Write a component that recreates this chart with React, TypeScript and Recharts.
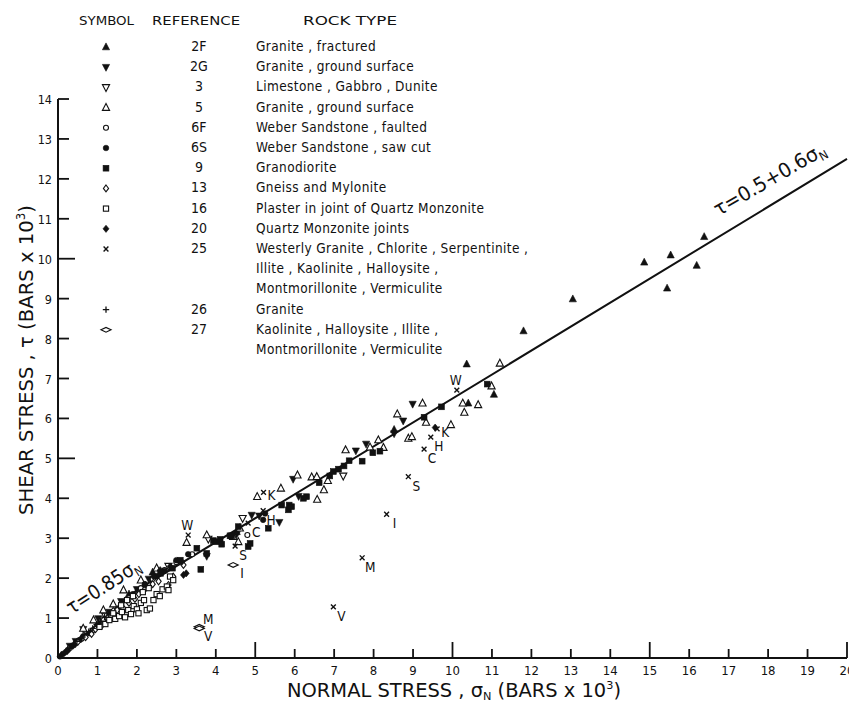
import React from "react";
import { ScatterChart, Scatter, XAxis, YAxis } from "recharts";

type Pt = [number, number];

const FONT = "'DejaVu Sans Condensed', 'DejaVu Sans', sans-serif";
const INK = "#111";

const X_TICKS = [0, 1, 2, 3, 4, 5, 6, 7, 8, 9, 10, 11, 12, 13, 14, 15, 16, 17, 18, 19, 20];
const Y_TICKS = [0, 1, 2, 3, 4, 5, 6, 7, 8, 9, 10, 11, 12, 13, 14];

// fitted lines: tau = 0.85 sigma up to 2 kbar, then tau = 0.5 + 0.6 sigma
const FIT_SIGMA = [0, 2, 20];
const FIT_TAU = [0, 1.7, 12.5];

const REF_2F: Pt[] = [
  [1.8, 1.6], [2.4, 2.15], [4.53, 3.16], [8.52, 5.72], [10.36, 7.36], [10.4, 6.38],
  [11.05, 6.6], [11.8, 8.19], [13.05, 8.99], [14.86, 9.91], [15.44, 9.26],
  [15.53, 10.09], [16.19, 9.83], [16.38, 10.55],
];
const REF_2G: Pt[] = [
  [0.3, 0.3], [0.45, 0.42], [0.64, 0.72], [1.02, 0.99], [1.3, 1.15], [1.6, 1.42],
  [2.0, 1.72], [2.3, 1.98], [3.77, 2.55], [4.53, 3.1], [4.91, 3.58], [5.1, 3.56],
  [5.61, 3.4], [5.96, 4.48], [6.1, 4.05], [7.55, 5.19], [7.81, 5.36], [8.52, 5.62],
  [8.75, 5.94], [8.99, 6.36],
];
const REF_3: Pt[] = [[1.2, 1.05], [2.8, 2.3], [3.81, 2.98], [4.68, 3.5], [7.23, 4.56]];
const REF_5: Pt[] = [
  [0.64, 0.74], [0.9, 0.95], [1.15, 1.2], [1.4, 1.35], [1.66, 1.7], [2.1, 1.95],
  [2.5, 2.25], [3.26, 2.89], [3.77, 3.08], [4.44, 3.04], [4.57, 2.91], [4.61, 3.25],
  [5.05, 4.04], [5.65, 4.25], [6.07, 4.58], [6.43, 4.53], [6.56, 4.54], [6.57, 3.97],
  [6.74, 4.21], [6.84, 4.44], [7.29, 5.21], [7.91, 5.28], [8.12, 5.46], [8.25, 5.27],
  [8.6, 6.11], [8.88, 5.5], [8.97, 5.54], [9.24, 6.38], [9.33, 5.9], [9.96, 5.84],
  [10.26, 6.38], [10.3, 6.15], [10.65, 6.34], [10.99, 6.81], [11.2, 7.38],
];
const REF_6F: Pt[] = [
  [0.3, 0.25], [0.6, 0.48], [0.9, 0.7], [1.2, 0.98], [1.5, 1.22], [1.8, 1.5],
  [2.1, 1.75], [2.4, 1.98], [2.7, 2.2], [3.0, 2.4], [3.4, 2.6], [4.8, 3.08],
];
const REF_6S: Pt[] = [
  [0.05, 0.04], [0.12, 0.1], [0.2, 0.15], [0.25, 0.2], [0.35, 0.3], [0.4, 0.32],
  [0.45, 0.38], [0.55, 0.45], [0.65, 0.55], [0.8, 0.62], [1.0, 0.82], [1.3, 1.08],
  [1.6, 1.35], [1.9, 1.6], [2.2, 1.85], [2.5, 2.05], [2.7, 2.18], [3.0, 2.45],
  [3.3, 2.6], [5.2, 3.46], [5.25, 3.62],
];
const REF_9: Pt[] = [
  [2.6, 2.12], [2.9, 2.25], [3.1, 2.45], [3.52, 2.75], [3.62, 2.22], [3.77, 2.62],
  [3.94, 2.94], [4.02, 2.91], [4.11, 2.97], [4.15, 2.85], [4.36, 3.06], [4.4, 3.06],
  [4.57, 3.29], [4.82, 2.79], [4.87, 2.87], [5.33, 3.25], [5.67, 3.83], [5.84, 3.71],
  [5.86, 3.83], [5.92, 3.79], [6.22, 4.0], [6.3, 4.04], [6.62, 4.39], [6.89, 4.56],
  [6.98, 4.67], [7.11, 4.73], [7.25, 4.81], [7.38, 4.94], [7.71, 4.93], [7.98, 5.14],
  [8.16, 5.18], [9.28, 6.03], [9.72, 6.29], [10.88, 6.86],
];
const REF_13: Pt[] = [
  [0.5, 0.4], [0.7, 0.52], [0.85, 0.6], [0.95, 0.72], [1.1, 0.8], [1.15, 0.95],
  [1.25, 1.0], [1.35, 1.05], [1.4, 1.18], [1.5, 1.2], [1.65, 1.25], [1.8, 1.38],
  [1.95, 1.48], [2.05, 1.6], [2.2, 1.72], [2.4, 1.85], [2.55, 1.92], [2.8, 1.83],
  [2.92, 2.04], [3.18, 2.33],
];
const REF_16: Pt[] = [
  [1.05, 0.78], [1.2, 0.85], [1.3, 0.95], [1.4, 1.12], [1.45, 0.98], [1.55, 1.05],
  [1.6, 1.32], [1.62, 1.15], [1.7, 1.02], [1.75, 1.45], [1.78, 1.2], [1.85, 1.1],
  [1.9, 1.55], [1.92, 1.3], [2.0, 1.22], [2.04, 1.12], [2.1, 1.38], [2.15, 1.65],
  [2.18, 1.45], [2.25, 1.2], [2.3, 1.75], [2.33, 1.24], [2.42, 1.45], [2.5, 1.6],
  [2.58, 1.55], [2.65, 1.72], [2.76, 1.79], [2.8, 1.7], [2.84, 2.04], [2.92, 1.95],
];
const REF_20: Pt[] = [
  [2.21, 1.83], [2.42, 2.04], [2.59, 2.2], [2.84, 2.29], [3.14, 2.41], [3.18, 2.08],
  [3.25, 2.12], [9.56, 5.77],
];
const REF_25: Pt[] = [
  [3.3, 3.08], [5.21, 4.15], [5.2, 3.69], [4.82, 3.38], [4.49, 2.8],
  [10.11, 6.71], [9.61, 5.74], [9.45, 5.53], [9.28, 5.23], [8.88, 4.54],
  [8.33, 3.6], [7.71, 2.51], [6.98, 1.28],
];
const LABELS_25 = ["W", "K", "H", "C", "S", "W", "K", "H", "C", "S", "I", "M", "V"];
const REF_26: Pt[] = [
  [0.1, 0.08], [0.18, 0.14], [0.28, 0.24], [0.38, 0.3], [0.48, 0.42], [0.58, 0.5],
  [0.68, 0.58], [0.78, 0.66], [0.88, 0.74], [0.98, 0.84], [1.08, 0.92], [1.18, 1.02],
];
const REF_27: Pt[] = [[4.44, 2.33], [3.58, 0.78], [3.58, 0.74]];
const LABELS_27 = ["I", "M", "V"];

const REFS = ["2F", "2G", "3", "5", "6F", "6S", "9", "13", "16", "20", "25", "26", "27"];
const ROCKS: string[][] = [
  ["Granite , fractured"],
  ["Granite , ground surface"],
  ["Limestone , Gabbro , Dunite"],
  ["Granite , ground surface"],
  ["Weber Sandstone , faulted"],
  ["Weber Sandstone , saw cut"],
  ["Granodiorite"],
  ["Gneiss and Mylonite"],
  ["Plaster in joint of Quartz Monzonite"],
  ["Quartz Monzonite joints"],
  ["Westerly Granite , Chlorite , Serpentinite ,", "Illite , Kaolinite , Halloysite ,", "Montmorillonite , Vermiculite"],
  ["Granite"],
  ["Kaolinite , Halloysite , Illite ,", "Montmorillonite , Vermiculite"],
];

const GLYPHS = [
  "triUpFill", "triDownFill", "triDownOpen", "triUpOpen", "circleOpen", "circleFill",
  "squareFill", "diamondOpen", "squareOpen", "diamondFill", "cross", "plus", "lens",
];
const DATA = [REF_2F, REF_2G, REF_3, REF_5, REF_6F, REF_6S, REF_9, REF_13, REF_16, REF_20, REF_25, REF_26, REF_27];
const TAGS: Record<string, string[]> = { "25": LABELS_25, "27": LABELS_27 };

function Glyph({ kind, cx, cy }: { kind: string; cx: number; cy: number }) {
  const s = 3.6;
  const open = { fill: "#fff", stroke: INK, strokeWidth: 1.1 };
  const solid = { fill: INK, stroke: INK, strokeWidth: 0.6 };
  switch (kind) {
    case "triUpFill":
    case "triUpOpen":
      return (
        <polygon
          points={`${cx},${cy - s - 0.5} ${cx - s},${cy + s - 0.8} ${cx + s},${cy + s - 0.8}`}
          {...(kind === "triUpFill" ? solid : open)}
        />
      );
    case "triDownFill":
    case "triDownOpen":
      return (
        <polygon
          points={`${cx},${cy + s + 0.5} ${cx - s},${cy - s + 0.8} ${cx + s},${cy - s + 0.8}`}
          {...(kind === "triDownFill" ? solid : open)}
        />
      );
    case "circleOpen":
      return <circle cx={cx} cy={cy} r={2.5} {...open} />;
    case "circleFill":
      return <circle cx={cx} cy={cy} r={2.8} {...solid} />;
    case "squareFill":
      return <rect x={cx - 2.9} y={cy - 2.9} width={5.8} height={5.8} {...solid} />;
    case "squareOpen":
      return <rect x={cx - 2.6} y={cy - 2.6} width={5.2} height={5.2} {...open} />;
    case "diamondOpen":
      return <polygon points={`${cx},${cy - 3.4} ${cx + 2.6},${cy} ${cx},${cy + 3.4} ${cx - 2.6},${cy}`} {...open} />;
    case "diamondFill":
      return <polygon points={`${cx},${cy - 3.6} ${cx + 3},${cy} ${cx},${cy + 3.6} ${cx - 3},${cy}`} {...solid} />;
    case "cross":
      return (
        <path d={`M${cx - 2.4},${cy - 2.4}L${cx + 2.4},${cy + 2.4}M${cx - 2.4},${cy + 2.4}L${cx + 2.4},${cy - 2.4}`} stroke={INK} strokeWidth={1.4} />
      );
    case "plus":
      return <path d={`M${cx - 3.2},${cy}L${cx + 3.2},${cy}M${cx},${cy - 3.2}L${cx},${cy + 3.2}`} stroke={INK} strokeWidth={1.3} />;
    case "lens":
      return <polygon points={`${cx - 5},${cy} ${cx},${cy - 2.4} ${cx + 5},${cy} ${cx},${cy + 2.4}`} {...open} strokeWidth={1.2} />;
    default:
      return null;
  }
}

function tagOffset(ref: string, tag: string): [number, number] {
  if (tag === "W") return [-1, -10];
  if (tag === "K") return [8, 3];
  if (ref === "27" && tag === "M") return [9, -8];
  if (ref === "27") return [9, 8];
  return [8, 9];
}

function XTick({ x, y, payload }: any) {
  const v = payload.value;
  const len = v % 5 === 0 ? 16 : 9;
  return (
    <g>
      {v !== 0 && <line x1={x} x2={x} y1={y} y2={y - len} stroke={INK} strokeWidth={1.8} />}
      <text x={x} y={y + 17} textAnchor="middle" fontSize={13} fontFamily={FONT} fill={INK}>
        {v}
      </text>
    </g>
  );
}

function YTick({ x, y, payload }: any) {
  const v = payload.value;
  const len = v % 5 === 0 ? 17 : 11;
  return (
    <g>
      {v !== 0 && <line x1={x} x2={x + len} y1={y} y2={y} stroke={INK} strokeWidth={1.8} />}
      <text x={x - 6} y={y + 5} textAnchor="end" fontSize={12.5} fontFamily={FONT} fill={INK}>
        {v}
      </text>
    </g>
  );
}

function Overlay() {
  const rowY = (i: number) => 51 + i * 20.2;
  let row = 0;
  const rows = REFS.map((ref, i) => {
    const start = row;
    row += ROCKS[i].length;
    return (
      <g key={ref}>
        <Glyph kind={GLYPHS[i]} cx={106} cy={rowY(start) - 4} />
        <text x={199} y={rowY(start)} textAnchor="middle" fontSize={14}>
          {ref}
        </text>
        {ROCKS[i].map((line, j) => (
          <text key={j} x={256} y={rowY(start + j)} fontSize={13.5} letterSpacing={0.4}>
            {line}
          </text>
        ))}
      </g>
    );
  });
  return (
    <svg
      width={849}
      height={704}
      style={{ position: "absolute", left: 0, top: 0, pointerEvents: "none" }}
      fontFamily={FONT}
      fill={INK}
    >
      <text x={79} y={25} fontSize={12.5} textLength={55} lengthAdjust="spacingAndGlyphs">SYMBOL</text>
      <text x={152} y={25} fontSize={12.5} textLength={88} lengthAdjust="spacingAndGlyphs">REFERENCE</text>
      <text x={303} y={25} fontSize={12.5} textLength={94} lengthAdjust="spacingAndGlyphs">ROCK TYPE</text>
      {rows}

      <text x={454} y={697} fontSize={19} textAnchor="middle" textLength={334} lengthAdjust="spacingAndGlyphs">
        NORMAL STRESS , σ<tspan fontSize={11} dy={3}>N</tspan>
        <tspan dy={-3}> (BARS x 10</tspan>
        <tspan fontSize={11} dy={-8}>3</tspan>
        <tspan dy={8}>)</tspan>
      </text>
      <text
        transform="translate(33,360) rotate(-90)"
        fontSize={20}
        textAnchor="middle"
        textLength={310}
        lengthAdjust="spacingAndGlyphs"
      >
        SHEAR STRESS , τ (BARS x 10<tspan fontSize={12} dy={-8}>3</tspan>
        <tspan dy={8}>)</tspan>
      </text>

      <text transform="translate(107,592) rotate(-33)" fontSize={20} textAnchor="middle" textLength={84} lengthAdjust="spacingAndGlyphs">
        τ=0.85σ<tspan fontSize={12} dy={4}>N</tspan>
      </text>
      <text transform="translate(773,185) rotate(-30)" fontSize={20} textAnchor="middle" textLength={126} lengthAdjust="spacingAndGlyphs">
        τ=0.5+0.6σ<tspan fontSize={12} dy={4}>N</tspan>
      </text>
    </svg>
  );
}

export default function App() {
  const fit = FIT_SIGMA.map((x, i) => ({ x, y: FIT_TAU[i] }));
  return (
    <div style={{ position: "absolute", left: 0, top: 0, width: 849, height: 704, background: "#fff" }}>
      <ScatterChart width={849} height={704} margin={{ top: 99, right: 2, bottom: 0, left: 0 }}>
        <XAxis
          type="number"
          dataKey="x"
          domain={[0, 20]}
          ticks={X_TICKS}
          interval={0}
          height={46}
          tickSize={0}
          tickMargin={0}
          tickLine={false}
          axisLine={{ stroke: INK, strokeWidth: 2 }}
          tick={<XTick />}
        />
        <YAxis
          type="number"
          dataKey="y"
          domain={[0, 14]}
          ticks={Y_TICKS}
          interval={0}
          width={58}
          tickSize={0}
          tickMargin={0}
          tickLine={false}
          axisLine={{ stroke: INK, strokeWidth: 2 }}
          tick={<YTick />}
        />
        <Scatter
          data={fit}
          line={{ stroke: INK, strokeWidth: 2 }}
          shape={() => <g />}
          isAnimationActive={false}
        />
        {REFS.map((ref, i) => {
          const tags = TAGS[ref];
          const pts = DATA[i].map(([x, y], k) => ({ x, y, tag: tags ? tags[k] : undefined }));
          return (
            <Scatter
              key={ref}
              name={ref}
              data={pts}
              isAnimationActive={false}
              shape={(p: any) => {
                const tag = p.payload?.tag;
                const [dx, dy] = tag ? tagOffset(ref, tag) : [0, 0];
                return (
                  <g>
                    <Glyph kind={GLYPHS[i]} cx={p.cx} cy={p.cy} />
                    {tag && (
                      <text x={p.cx + dx} y={p.cy + dy + 5} textAnchor="middle" fontSize={13.5} fontFamily={FONT} fill={INK}>
                        {tag}
                      </text>
                    )}
                  </g>
                );
              }}
            />
          );
        })}
      </ScatterChart>
      <Overlay />
    </div>
  );
}
